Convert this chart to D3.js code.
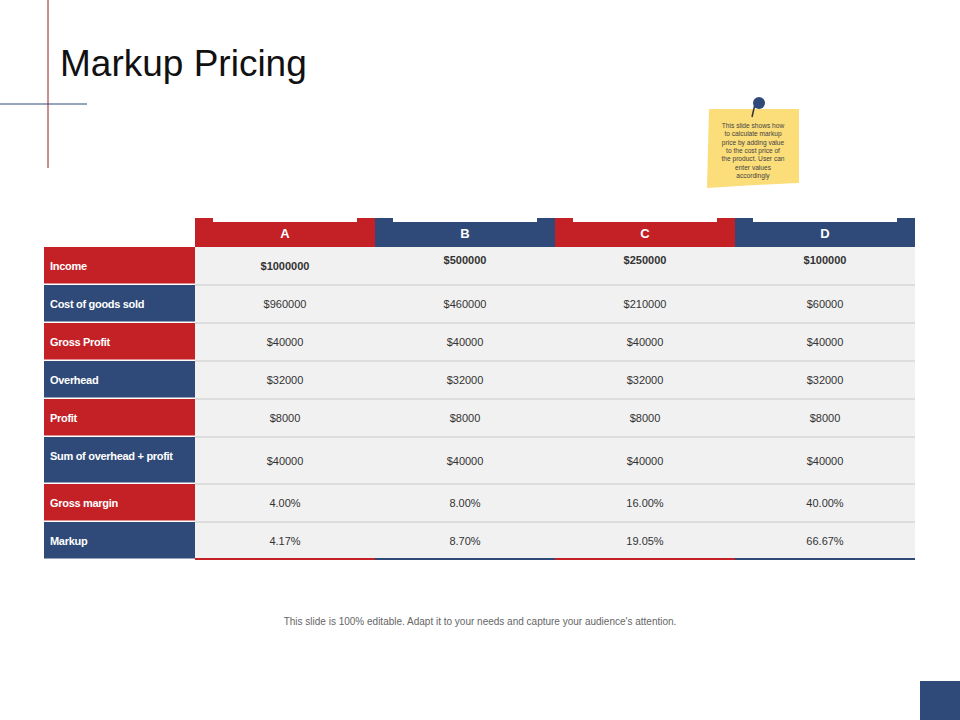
<!DOCTYPE html>
<html><head><meta charset="utf-8">
<script src="https://cdn.jsdelivr.net/npm/d3@7"></script>
<style>body{margin:0;background:#fff}svg{display:block}</style>
</head><body>
<svg width="960" height="720"></svg>
<script>
"use strict";

const columns = ['A', 'B', 'C', 'D'];
const rowLabels = ['Income', 'Cost of goods sold', 'Gross Profit', 'Overhead', 'Profit',
	'Sum of overhead + profit', 'Gross margin', 'Markup'];
const colA = ['$1000000', '$960000', '$40000', '$32000', '$8000', '$40000', '4.00%', '4.17%'];
const colB = ['$500000', '$460000', '$40000', '$32000', '$8000', '$40000', '8.00%', '8.70%'];
const colC = ['$250000', '$210000', '$40000', '$32000', '$8000', '$40000', '16.00%', '19.05%'];
const colD = ['$100000', '$60000', '$40000', '$32000', '$8000', '$40000', '40.00%', '66.67%'];
const values = [colA, colB, colC, colD];

const red = '#c42127', blue = '#2f4a78';
const font = 'Liberation Sans, Arial, sans-serif';
const svg = d3.select('svg');

// slide decoration
svg.append('line').attr('x1', 48).attr('x2', 48).attr('y1', 0).attr('y2', 168).attr('stroke', '#9b1c22').attr('stroke-width', 1);
svg.append('line').attr('x1', 0).attr('x2', 87).attr('y1', 104).attr('y2', 104).attr('stroke', '#2f4a78').attr('stroke-width', 1);
svg.append('text').attr('x', 60).attr('y', 76).attr('font-family', font).attr('font-size', 37).attr('fill', '#111').text('Markup Pricing');
svg.append('rect').attr('x', 920).attr('y', 681).attr('width', 40).attr('height', 39).attr('fill', blue);

// sticky note
const note = svg.append('g');
note.append('path').attr('d', 'M709,109 L799,109 L799,183 Q770,184 707,188 Z').attr('fill', '#fbdd7a');
note.append('line').attr('x1', 755).attr('y1', 104).attr('x2', 752).attr('y2', 117).attr('stroke', '#333').attr('stroke-width', 1.5);
note.append('circle').attr('cx', 759).attr('cy', 103).attr('r', 6).attr('fill', '#2f4a78');
const noteLines = ['This slide shows how', 'to calculate markup', 'price by adding value', 'to the  cost price of', 'the product. User can', 'enter values', 'accordingly'];
note.selectAll('text.n').data(noteLines).enter().append('text')
	.attr('x', 753).attr('y', (d, i) => 128 + i * 8.3)
	.attr('text-anchor', 'middle').attr('font-family', font).attr('font-size', 6.6).attr('fill', '#444').text(d => d);

// table scales
const x = d3.scaleBand().domain(columns).range([195, 915]);
const rowWeights = [38, 38, 38, 38, 38, 47, 38, 38];
const cum = d3.cumsum([0].concat(rowWeights));
const y = d3.scaleLinear().domain([0, cum[cum.length - 1]]).range([247, 560]);
const rowTop = i => y(cum[i]);
const rowH = i => y(cum[i + 1]) - y(cum[i]);
const colColor = i => (i % 2 === 0 ? red : blue);

// header
const head = svg.append('g');
columns.forEach((c, i) => {
	head.append('rect').attr('x', x(c)).attr('y', 218).attr('width', x.bandwidth()).attr('height', 29).attr('fill', colColor(i));
	head.append('rect').attr('x', x(c) + 18).attr('y', 213).attr('width', x.bandwidth() - 36).attr('height', 9).attr('fill', '#fff');
	head.append('text').attr('x', x(c) + x.bandwidth() / 2).attr('y', 238).attr('text-anchor', 'middle')
		.attr('font-family', font).attr('font-weight', 'bold').attr('font-size', 13).attr('fill', '#fff').text(c);
});

// body cells
const body = svg.append('g');
body.append('rect').attr('x', 195).attr('y', 247).attr('width', 720).attr('height', 313).attr('fill', '#f1f1f1');
rowLabels.forEach((lab, i) => {
	body.append('rect').attr('x', 44).attr('y', rowTop(i)).attr('width', 151).attr('height', rowH(i) - 1.5)
		.attr('fill', i % 2 === 0 ? red : blue);
	body.append('text').attr('x', 50).attr('y', rowTop(i) + 23).attr('font-family', font).attr('font-weight', 'bold')
		.attr('font-size', 11).attr('letter-spacing', -0.3).attr('fill', '#fff').text(lab);
	if (i > 0) body.append('line').attr('x1', 195).attr('x2', 915).attr('y1', rowTop(i)).attr('y2', rowTop(i)).attr('stroke', '#c9c9c9');
});
values.forEach((col, j) => {
	body.selectAll('text.v' + j).data(col).enter().append('text')
		.attr('x', x(columns[j]) + x.bandwidth() / 2)
		.attr('y', (d, i) => i === 0 ? (j === 0 ? 270 : 264) : rowTop(i) + rowH(i) / 2 + 4)
		.attr('text-anchor', 'middle').attr('font-family', font)
		.attr('font-weight', (d, i) => i === 0 ? 'bold' : 'normal')
		.attr('font-size', 11).attr('fill', '#333').text(d => d);
	body.append('rect').attr('x', x(columns[j])).attr('y', 558).attr('width', x.bandwidth()).attr('height', 2).attr('fill', colColor(j));
});

svg.append('text').attr('x', 480).attr('y', 625).attr('text-anchor', 'middle').attr('font-family', font)
	.attr('font-size', 10).attr('fill', '#666').text("This slide is 100% editable.  Adapt it to your needs and capture your audience's attention.");
</script>
</body></html>
